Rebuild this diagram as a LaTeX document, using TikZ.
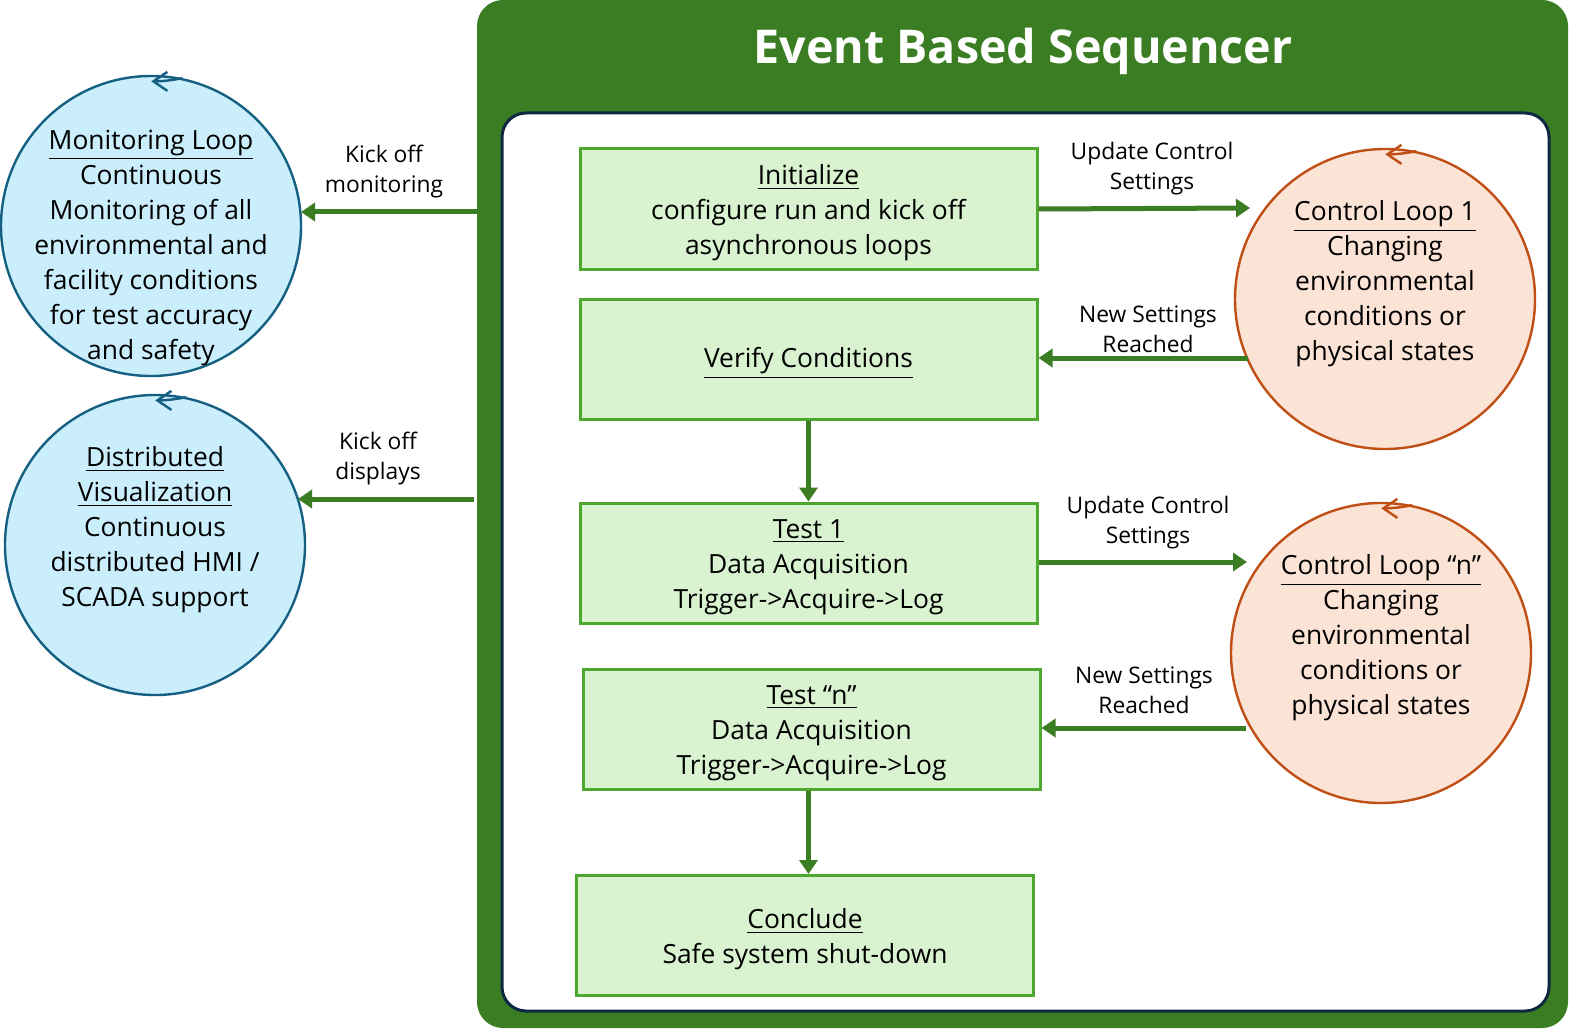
\documentclass[tikz,border=0pt]{standalone}
\usepackage{fontspec}
\setmainfont{Open Sans}
\usetikzlibrary{arrows.meta}
\definecolor{dkgreen}{HTML}{3B7D23}
\definecolor{boxfill}{HTML}{D9F2D0}
\definecolor{boxline}{HTML}{4EA72E}
\definecolor{navy}{HTML}{0E2841}
\definecolor{bluefill}{HTML}{CAEEFB}
\definecolor{blueline}{HTML}{156082}
\definecolor{orfill}{HTML}{FBE3D6}
\definecolor{orline}{HTML}{C04F15}
\tikzset{
  stepbox/.style={draw=boxline, fill=boxfill, line width=1.5pt, minimum width=228.5pt, minimum height=60pt, inner sep=0pt},
  bluecirc/.style={circle, draw=blueline, fill=bluefill, line width=1.2pt, minimum size=150pt, inner sep=0pt},
  orcirc/.style={circle, draw=orline, fill=orfill, line width=1.2pt, minimum size=150pt, inner sep=0pt},
  ctext/.style={align=center, inner sep=0pt, font=\fontsize{13.2}{17.5}\selectfont},
  elabel/.style={align=center, inner sep=0pt, font=\fontsize{11.4}{15}\selectfont},
  flow/.style={draw=dkgreen, line width=2.5pt, -{Triangle[length=7pt,width=9pt]}},
  looptip/.style={line width=1.2pt, -{Straight Barb[length=7pt,width=9.5pt]}}
}
\begin{document}
\begin{tikzpicture}[x=0.5pt,y=-0.5pt]
\useasboundingbox (0,0) rectangle (1572,1032);
% outer sequencer frame
\fill[dkgreen, rounded corners=13pt] (477,0) rectangle (1568,1028);
\node[text=white, font=\bfseries\fontsize{23.3}{27}\selectfont, inner sep=0pt] (title) at (1023,51) {Event Based Sequencer};
\draw[navy, fill=white, line width=1.5pt, rounded corners=12pt] (502,113) rectangle (1549,1011);
\coordinate (seqL1) at (477,212);
\coordinate (seqL2) at (474,499);

% step boxes
\node[stepbox] (init) at (808.5,209) {};
\node[ctext] (initT) at (808.5,213) {\underline{Initialize}\\configure run and kick off\\asynchronous loops};
\node[stepbox] (verify) at (808.5,359) {};
\node[ctext] (verifyT) at (808.5,363) {\underline{Verify Conditions}};
\node[stepbox] (test1) at (808.5,563) {};
\node[ctext] (test1T) at (808.5,567) {\underline{Test 1}\\Data Acquisition\\Trigger->Acquire->Log};
\node[stepbox] (testn) at (811.5,729) {};
\node[ctext] (testnT) at (811.5,733) {\underline{Test “n”}\\Data Acquisition\\Trigger->Acquire->Log};
\node[stepbox] (conclude) at (805,935.5) {};
\node[ctext] (concludeT) at (805,939.5) {\underline{Conclude}\\Safe system shut-down};

% circles
\node[bluecirc] (mon) at (151,226) {};
\node[ctext] (montext) at (151,248) {\underline{Monitoring Loop}\\Continuous\\Monitoring of all\\environmental and\\facility conditions\\for test accuracy\\and safety};
\node[bluecirc] (dist) at (155,545) {};
\node[ctext] (disttext) at (155,530) {\underline{Distributed}\\\underline{Visualization}\\Continuous\\distributed HMI /\\SCADA support};
\node[orcirc] (cl1) at (1385,299) {};
\node[ctext] (cl1text) at (1385,284) {\underline{Control Loop 1}\\Changing\\environmental\\conditions or\\physical states};
\node[orcirc] (cln) at (1381,653) {};
\node[ctext] (clntext) at (1381,638) {\underline{Control Loop “n”}\\Changing\\environmental\\conditions or\\physical states};

% loop arrowheads on circles
\draw[looptip, blueline] (mon.78) arc (78:90:150);
\draw[looptip, blueline] (dist.78) arc (78:90:150);
\draw[looptip, orline] (cl1.78) arc (78:90:150);
\draw[looptip, orline] (cln.78) arc (78:90:150);

% connector end points on circle rims
\coordinate (monIn) at (301,212);
\coordinate (distIn) at (298,499);
\coordinate (cl1In) at (1250,208);
\coordinate (cl1Out) at (1248,358);
\coordinate (clnIn) at (1247,562);
\coordinate (clnOut) at (1246,728);

% connectors
\draw[flow] (seqL1) -- (monIn);
\node[elabel] (lab1) at (384,172) {Kick off\\monitoring};
\draw[flow] (seqL2) -- (distIn);
\node[elabel] (lab2) at (378,459) {Kick off\\displays};

\draw[flow] (init.east) -- (cl1In);
\node[elabel] (lab3) at (1152,169) {Update Control\\Settings};
\draw[flow] (cl1Out) -- (verify.east |- cl1Out);
\node[elabel] (lab4) at (1148,329) {New Settings\\Reached};
\draw[flow] (verify.south) -- (test1.north);
\draw[flow] (test1.east |- clnIn) -- (clnIn);
\node[elabel] (lab5) at (1148,523) {Update Control\\Settings};
\draw[flow] (clnOut) -- (testn.east |- clnOut);
\node[elabel] (lab6) at (1144,690) {New Settings\\Reached};
\draw[flow] (testn.south -| verify.south) -- (conclude.north -| verify.south);
\end{tikzpicture}
\end{document}
